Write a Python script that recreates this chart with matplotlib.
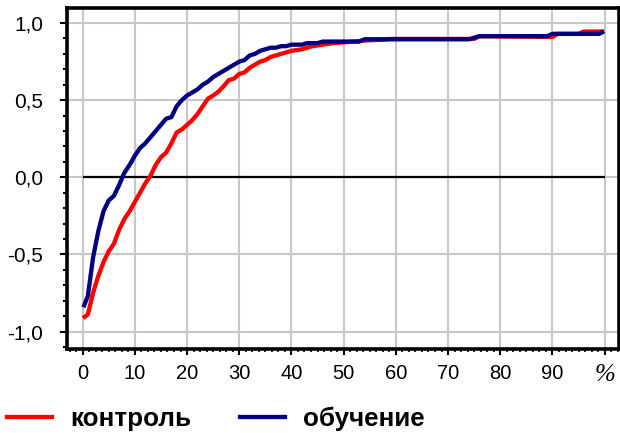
import matplotlib
matplotlib.use('Agg')
import matplotlib.pyplot as plt
from matplotlib.ticker import MultipleLocator

plt.rcParams['font.family'] = ['Liberation Sans', 'DejaVu Sans']

# Values (x in %, y = score)
control_x = [0.4, 1, 2, 3, 4, 5, 6, 7, 8, 9, 10, 11, 12, 13, 14, 15, 16, 17, 18, 19,
             20, 21, 22, 23, 24, 25, 26, 27, 28, 29, 30, 31, 32, 33, 34, 35, 36, 37, 38, 39,
             40, 42, 44, 46, 48, 50, 52, 54, 58, 59, 75, 76, 90, 91, 95, 96, 99.5]
control_y = [-0.905, -0.89, -0.75, -0.64, -0.55, -0.48, -0.43, -0.34, -0.27, -0.22,
             -0.16, -0.10, -0.04, 0.01, 0.08, 0.13, 0.16, 0.22, 0.29, 0.31,
             0.34, 0.37, 0.41, 0.46, 0.51, 0.53, 0.555, 0.59, 0.63, 0.64,
             0.67, 0.68, 0.71, 0.73, 0.75, 0.76, 0.78, 0.79, 0.80, 0.81,
             0.82, 0.83, 0.85, 0.86, 0.87, 0.875, 0.88, 0.887, 0.893, 0.897,
             0.897, 0.915, 0.91, 0.93, 0.93, 0.945, 0.945]

train_x = [0.3, 1, 2, 3, 4, 5, 6, 7, 8, 9, 10, 11, 12, 13, 14, 15, 16, 17, 18, 19,
           20, 21, 22, 23, 24, 25, 26, 27, 28, 29, 30, 31, 32, 33, 34, 35, 36, 37, 38, 39,
           40, 42, 43, 45, 46, 53, 54, 74, 76, 89, 90, 99, 99.5]
train_y = [-0.83, -0.77, -0.52, -0.35, -0.22, -0.15, -0.12, -0.05, 0.03, 0.08,
           0.14, 0.19, 0.22, 0.26, 0.30, 0.34, 0.38, 0.39, 0.46, 0.50,
           0.53, 0.55, 0.57, 0.60, 0.62, 0.65, 0.67, 0.69, 0.71, 0.73,
           0.75, 0.76, 0.79, 0.80, 0.82, 0.83, 0.84, 0.84, 0.85, 0.85,
           0.86, 0.86, 0.87, 0.87, 0.88, 0.88, 0.895, 0.895, 0.915, 0.915,
           0.93, 0.93, 0.94]

x_ticks = [0, 10, 20, 30, 40, 50, 60, 70, 80, 90, 100]
x_labels = ['0', '10', '20', '30', '40', '50', '60', '70', '80', '90', '%']
y_ticks = [-1.0, -0.5, 0.0, 0.5, 1.0]
y_labels = ['-1,0', '-0,5', '0,0', '0,5', '1,0']
series_names = ['контроль', 'обучение']

fig = plt.figure(figsize=(6.2, 4.33), dpi=100)
ax = fig.add_axes([0.108, 0.193, 0.89, 0.789])

ax.grid(True, which='major', color='#c8c8c8', linewidth=1.5)
ax.set_axisbelow(True)

ax.hlines(0, 0, 100, color='black', linewidth=1.6, zorder=2)
ax.plot(control_x, control_y, color='#ff0000', linewidth=3.1, label=series_names[0], zorder=3)
ax.plot(train_x, train_y, color='#000080', linewidth=3.1, label=series_names[1], zorder=4)

ax.set_xlim(-3.0, 102.7)
ax.set_ylim(-1.116, 1.099)

ax.set_xticks(x_ticks)
ax.set_xticklabels(x_labels, fontsize=14.5)
ax.set_yticks(y_ticks)
ax.set_yticklabels(y_labels, fontsize=15)
ax.xaxis.set_minor_locator(MultipleLocator(1.25))
ax.yaxis.set_minor_locator(MultipleLocator(0.1))

# percent sign drawn in italic serif like the original
pct = ax.get_xticklabels()[-1]
pct.set_fontfamily('Liberation Serif')
pct.set_fontstyle('italic')
pct.set_fontsize(18)

ax.tick_params(axis='x', which='major', length=4.5, width=1.5, pad=6)
ax.tick_params(axis='x', which='minor', length=2.5, width=1.2)
ax.tick_params(axis='y', which='major', length=5, width=1.5, pad=12)
ax.tick_params(axis='y', which='minor', length=3, width=1.5)

for side in ['left', 'right', 'top', 'bottom']:
    ax.spines[side].set_linewidth(2.6)
    ax.spines[side].set_color('black')

handles, labels = ax.get_legend_handles_labels()
fig.legend(handles, labels, loc='lower left', bbox_to_anchor=(-0.014, -0.032), ncol=2,
           frameon=False, prop={'weight': 'bold', 'size': 18.7},
           handlelength=1.73, handletextpad=0.69, columnspacing=1.88, borderaxespad=0.2)

fig.savefig('out.png', dpi=100)
